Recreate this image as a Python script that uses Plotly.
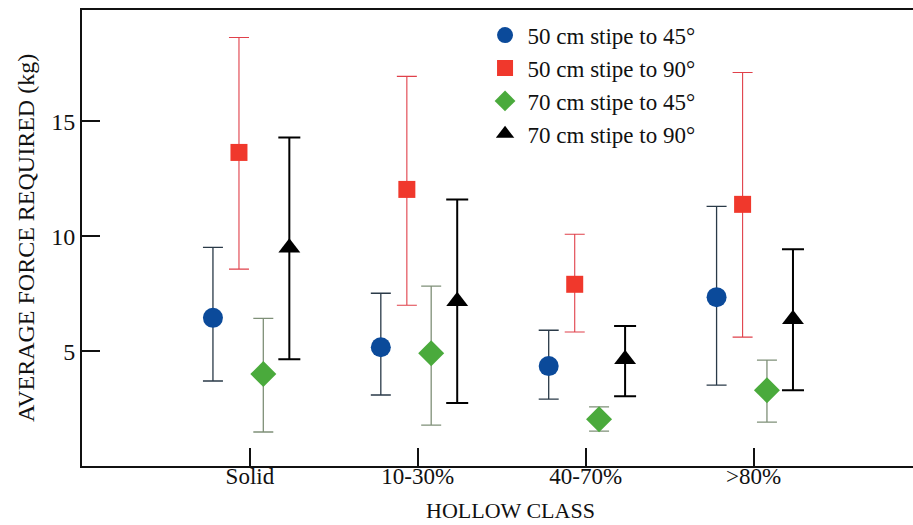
import plotly.graph_objects as go

# Hollow classes along the x axis
categories = ["Solid", "10-30%", "40-70%", ">80%"]

# Mean force (kg) and the upper / lower limits of each error bar
series_names = [
    "50 cm stipe to 45°",
    "50 cm stipe to 90°",
    "70 cm stipe to 45°",
    "70 cm stipe to 90°",
]
mean_50_45 = [6.45, 5.17, 4.35, 7.35]
upper_50_45 = [9.52, 7.52, 5.91, 11.3]
lower_50_45 = [3.70, 3.09, 2.91, 3.52]

mean_50_90 = [13.65, 12.04, 7.91, 11.39]
upper_50_90 = [18.65, 16.96, 10.09, 17.13]
lower_50_90 = [8.57, 7.0, 5.83, 5.61]

mean_70_45 = [4.0, 4.91, 2.04, 3.30]
upper_70_45 = [6.43, 7.83, 2.57, 4.61]
lower_70_45 = [1.48, 1.78, 1.52, 1.91]

mean_70_90 = [9.5, 7.17, 4.65, 6.39]
upper_70_90 = [14.3, 11.6, 6.09, 9.43]
lower_70_90 = [4.65, 2.74, 3.04, 3.30]

y_ticks = [5, 10, 15]

means = [mean_50_45, mean_50_90, mean_70_45, mean_70_90]
uppers = [upper_50_45, upper_50_90, upper_70_45, upper_70_90]
lowers = [lower_50_45, lower_50_90, lower_70_45, lower_70_90]

# Styling per series
offsets = [-0.22, -0.065, 0.08, 0.235]
symbols = ["circle", "square", "diamond", "triangle-up"]
marker_colors = ["#0b4a9a", "#f0382c", "#4aaa3c", "#000000"]
marker_sizes = [20, 17, 20, 19]
bar_colors = ["#2a3a48", "#e0404a", "#7f9078", "#000000"]
bar_thick = [1.3, 1.1, 1.3, 2.0]
cap_widths = [10, 10, 10, 11]

font_family = "Liberation Serif, Times New Roman, serif"

fig = go.Figure()
for k in range(4):
    xs = [i + offsets[k] for i in range(len(categories))]
    plus = [u - m for u, m in zip(uppers[k], means[k])]
    minus = [m - l for m, l in zip(means[k], lowers[k])]
    fig.add_trace(go.Scatter(
        x=xs, y=means[k], mode="markers", name=series_names[k],
        legendgroup=f"g{k}",
        marker=dict(symbol=symbols[k], size=marker_sizes[k], color=marker_colors[k],
                    line=dict(width=0)),
        error_y=dict(type="data", symmetric=False, array=plus, arrayminus=minus,
                     color=bar_colors[k], thickness=bar_thick[k], width=cap_widths[k]),
    ))

# x-axis title, centred a little right of the plot middle
fig.add_annotation(
    text="HOLLOW CLASS", x=1.55, xref="x", y=0, yref="paper",
    yanchor="middle", yshift=-44, showarrow=False,
    font=dict(family=font_family, size=22, color="#111"),
)

fig.update_layout(
    width=913, height=525,
    margin=dict(l=82, r=0, t=10, b=59),
    paper_bgcolor="white", plot_bgcolor="white",
    font=dict(family=font_family, size=23, color="#111"),
    showlegend=True,
    legend=dict(x=0.482, y=0.992, xanchor="left", yanchor="top",
                bgcolor="rgba(0,0,0,0)",
                font=dict(family=font_family, size=23, color="#111"),
                tracegroupgap=0, itemwidth=35),
    xaxis=dict(
        range=[-1, 3.95], tickmode="array", tickvals=list(range(len(categories))),
        ticktext=categories, ticks="inside", ticklen=18, tickwidth=1.5, tickcolor="#111",
        tickfont=dict(family=font_family, size=23, color="#111"),
        ticklabelstandoff=-12,
        showline=True, linecolor="#111", linewidth=1.8, mirror=True,
        showgrid=False, zeroline=False,
    ),
    yaxis=dict(
        range=[0, 19.85], tickmode="array", tickvals=y_ticks,
        ticks="inside", ticklen=18, tickwidth=1.5, tickcolor="#111",
        tickfont=dict(family=font_family, size=24, color="#111"),
        showline=True, linecolor="#111", linewidth=1.8,
        showgrid=False, zeroline=False,
        title=dict(text="AVERAGE FORCE REQUIRED (kg)", standoff=10,
                   font=dict(family=font_family, size=24, color="#111")),
    ),
)

fig.write_html("out.html")
